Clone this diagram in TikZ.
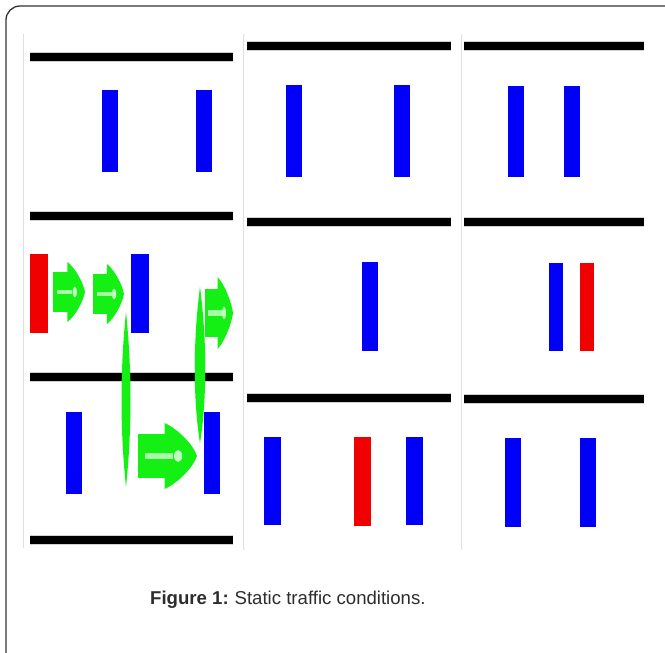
\documentclass[tikz,border=0pt]{standalone}
\usepackage{fontspec}
\newfontfamily\capfont{Liberation Sans}
\definecolor{carblue}{RGB}{0,0,250}
\definecolor{carred}{RGB}{240,0,0}
\definecolor{arrgreen}{RGB}{20,240,20}
\definecolor{capgray}{RGB}{45,45,45}
\tikzset{
  road/.style={line width=7.5pt, black},
  roadhalo/.style={line width=10pt, black!18},
  sep/.style={line width=0.8pt, black!12},
  frame/.style={line width=1.3pt, black!80, rounded corners=14pt},
  bluecar/.style={fill=carblue},
  redcar/.style={fill=carred},
  spindle/.style={fill=arrgreen},
  garrow/.pic={
    \fill[arrgreen] (0,-0.33) -- (0.45,-0.33) -- (0.45,-0.5)
      .. controls (0.7,-0.4) and (0.95,-0.15) .. (1,0)
      .. controls (0.95,0.15) and (0.7,0.4) .. (0.45,0.5)
      -- (0.45,0.33) -- (0,0.33) -- cycle;
    \fill[green!35!white] (0.12,-0.04) rectangle (0.6,0.04);
    \fill[white!75!green] (0.68,0) ellipse [x radius=0.07, y radius=0.09];
  }
}
\begin{document}
\begin{tikzpicture}[x=1pt,y=-1pt]
\useasboundingbox (0,0) rectangle (665,653);
\fill[white] (0,0) rectangle (665,653);
\begin{scope}
\clip (0,0) rectangle (665,653);
\draw[frame] (6,680) -- (6,6) -- (700,6);
\end{scope}
% panel separators
\draw[sep] (23,34) -- (23,548);
\draw[sep] (243,34) -- (243,550);
\draw[sep] (461,34) -- (461,550);
% roads panel 1
\foreach \y in {57,216,377,540}{
  \draw[roadhalo] (30,\y) -- (233,\y);
  \draw[road] (30,\y) -- (233,\y);
}
% roads panel 2
\foreach \y in {46,222,398}{
  \draw[roadhalo] (247,\y) -- (451,\y);
  \draw[road] (247,\y) -- (451,\y);
}
% roads panel 3
\foreach \y in {46,222,399}{
  \draw[roadhalo] (464,\y) -- (644,\y);
  \draw[road] (464,\y) -- (644,\y);
}
% panel 1 cars
\fill[bluecar] (102,90) rectangle (118,172);
\fill[bluecar] (196,90) rectangle (212,172);
\fill[redcar] (30,254) rectangle (48,333);
\fill[bluecar] (131,254) rectangle (149,333);
\fill[bluecar] (66,412) rectangle (82,494);
\fill[bluecar] (204,412) rectangle (220,494);
% panel 2 cars
\fill[bluecar] (286,85) rectangle (302,177);
\fill[bluecar] (394,85) rectangle (410,177);
\fill[bluecar] (362,262) rectangle (378,351);
\fill[bluecar] (264,437) rectangle (281,525);
\fill[redcar] (354,437) rectangle (371,526);
\fill[bluecar] (406,437) rectangle (423,525);
% panel 3 cars
\fill[bluecar] (508,86) rectangle (524,177);
\fill[bluecar] (564,86) rectangle (580,177);
\fill[bluecar] (549,263) rectangle (563,351);
\fill[redcar] (580,263) rectangle (594,351);
\fill[bluecar] (505,438) rectangle (521,527);
\fill[bluecar] (580,438) rectangle (596,527);
% green arrows
\pic[xscale=32, yscale=60] at (53,292) {garrow};
\pic[xscale=31, yscale=60] at (93,294) {garrow};
\pic[xscale=28, yscale=72] at (205,313) {garrow};
\pic[xscale=59, yscale=66] at (138,456) {garrow};
% spindles
\fill[spindle] (126,312) .. controls (132,370) and (132,430) .. (126,487)
  .. controls (120,430) and (120,370) .. (126,312) -- cycle;
\fill[spindle] (200,287) .. controls (207,340) and (207,400) .. (200,443)
  .. controls (193,400) and (193,340) .. (200,287) -- cycle;
% caption
\node[anchor=west, text=capgray, font=\capfont\fontsize{18.6}{22}\selectfont, inner sep=0pt] (cap) at (150,600) {\textbf{Figure 1:}\hspace{-1pt} Static traffic conditions.};
\end{tikzpicture}
\end{document}
